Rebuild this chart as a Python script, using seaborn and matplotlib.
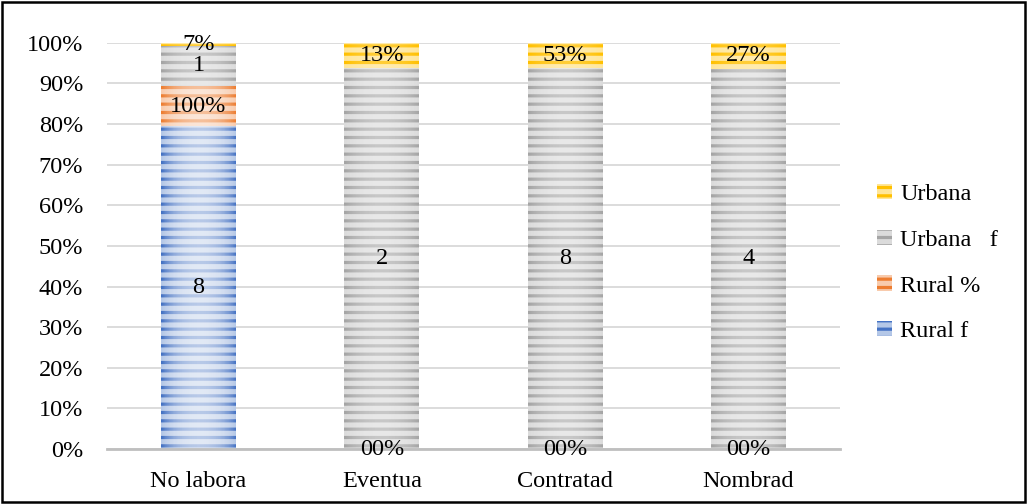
import matplotlib
matplotlib.use("Agg")
import matplotlib.pyplot as plt
import matplotlib.colors as mcolors
from matplotlib.patches import Patch, Rectangle
import numpy as np
import pandas as pd
import seaborn as sns

categories = ["No labora", "Eventua", "Contratad", "Nombrad"]
rural_f = [8, 0, 0, 0]
rural_pct = [100, 0, 0, 0]
urbana_f = [1, 2, 8, 4]
urbana_pct = [7, 13, 53, 27]

series_names = ["Rural f", "Rural %", "Urbana   f", "Urbana"]
series_colors = ["#4472C4", "#ED7D31", "#A5A5A5", "#FFC000"]

sns.set_theme(style="white")
plt.rcParams["font.family"] = ["Liberation Serif", "DejaVu Serif"]
plt.rcParams["hatch.linewidth"] = 2.3
plt.rcParams["text.color"] = "black"

FS = 17.5

# each series as stacked amounts (percent columns count as fractions)
amounts = np.array([
    rural_f,
    np.array(rural_pct) / 100.0,
    urbana_f,
    np.array(urbana_pct) / 100.0,
], dtype=float)
totals = amounts.sum(axis=0)
shares = amounts / totals
cum = np.cumsum(shares, axis=0)

fig = plt.figure(figsize=(10.27, 5.04), dpi=100)
ax = fig.add_axes([0.104, 0.109, 0.714, 0.806])

def lighten(c, f):
    r = np.array(mcolors.to_rgb(c))
    return tuple(r + (1 - r) * f)

# draw cumulative bars from the top layer down so each covers the one above it
bar_patches = []
for i in range(3, -1, -1):
    df = pd.DataFrame({"cat": categories, "val": cum[i]})
    n_before = len(ax.patches)
    sns.barplot(data=df, x="cat", y="val", order=categories, color=series_colors[i],
                saturation=1, width=0.41, ax=ax, errorbar=None, zorder=2)
    for p in ax.patches[n_before:]:
        p.set_facecolor(lighten(series_colors[i], 0.6))
        p.set_edgecolor(series_colors[i])
        p.set_hatch("--")
        p.set_linewidth(0)
        bar_patches.append(p)

# soft sheen across each bar: light in the middle, fading to the edges
xs = np.linspace(-1, 1, 64)
sheen = np.ones((1, 64, 4))
sheen[..., 3] = 0.22 * (1 - xs ** 2)
for p in bar_patches:
    if p.get_height() <= 0:
        continue
    x0, w, h = p.get_x(), p.get_width(), p.get_height()
    im = ax.imshow(sheen, extent=(x0, x0 + w, 0, h), aspect="auto",
                   interpolation="bilinear", zorder=2.5)
    im.set_clip_path(p)
ax.set_xlim(-0.5, 3.5)
ax.set_ylim(0, 1)

ax.set_yticks(np.arange(0, 1.01, 0.1))
ax.set_yticklabels([f"{int(round(v * 100))}%" for v in np.arange(0, 1.01, 0.1)])
ax.yaxis.grid(True, color="#D9D9D9", linewidth=1.3, zorder=0)
ax.set_axisbelow(True)
ax.tick_params(axis="y", length=0, pad=17, labelsize=FS, colors="black")
ax.tick_params(axis="x", length=0, pad=16, labelsize=FS, colors="black")
ax.set_xlabel("")
ax.set_ylabel("")
for s in ["left", "right", "top"]:
    ax.spines[s].set_visible(False)
ax.spines["bottom"].set_color("#BFBFBF")
ax.spines["bottom"].set_linewidth(2)
ax.spines["bottom"].set_zorder(3)

# data labels
label_sets = [
    [str(v) for v in rural_f],
    [f"{v}%" for v in rural_pct],
    [str(v) for v in urbana_f],
    [f"{v}%" for v in urbana_pct],
]
for j in range(len(categories)):
    if shares[0, j] == 0 and shares[1, j] == 0:
        ax.text(j, 0, label_sets[0][j] + label_sets[1][j], ha="center", va="center",
                fontsize=FS, color="black", zorder=5)
        start = 2
    else:
        start = 0
    for i in range(start, 4):
        lo = cum[i - 1, j] if i > 0 else 0
        mid = (lo + cum[i, j]) / 2
        ax.text(j, mid, label_sets[i][j], ha="center", va="center", fontsize=FS,
                color="black", zorder=5)

handles = [Patch(facecolor=lighten(series_colors[i], 0.6), edgecolor=series_colors[i],
                 hatch="--", linewidth=0, label=series_names[i]) for i in range(3, -1, -1)]
fig.legend(handles=handles, loc="center left", bbox_to_anchor=(0.833, 0.478),
           frameon=False, fontsize=FS, handlelength=0.6, handleheight=0.6,
           handletextpad=0.35, labelspacing=1.0)

fig.patches.append(Rectangle((0.002, 0.003), 0.996, 0.994, transform=fig.transFigure,
                             fill=False, edgecolor="black", linewidth=1.8))

fig.savefig("out.png", dpi=100)
